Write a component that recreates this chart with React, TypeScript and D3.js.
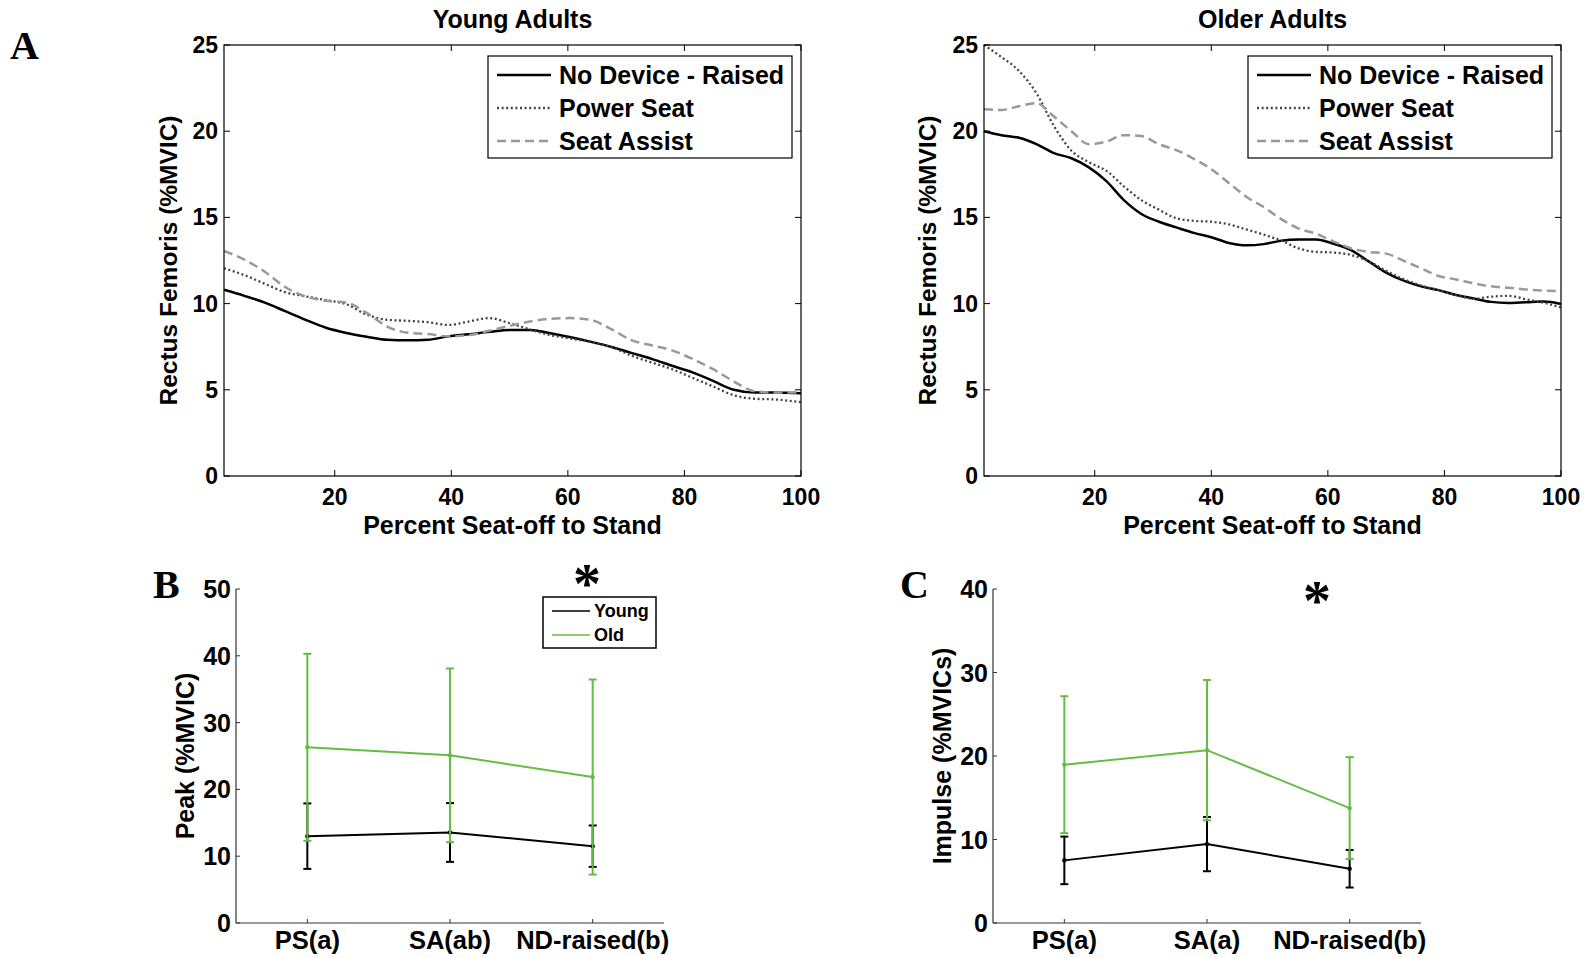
import React from 'react';
import * as d3 from 'd3';

// ---------- Panel A data ----------
const youngX = [1, 4.5, 8, 11.5, 15, 18.5, 22, 25.5, 29, 32.5, 36, 39.5, 43, 46.5, 50, 53.5, 57, 60.5, 64, 67.5, 71, 74.5, 78, 81.5, 85, 88.5, 92, 95.5, 100];
const youngNoDevice = [10.8, 10.45, 10.06, 9.56, 9.06, 8.6, 8.3, 8.08, 7.9, 7.87, 7.9, 8.1, 8.22, 8.36, 8.47, 8.47, 8.28, 8.05, 7.78, 7.48, 7.13, 6.78, 6.38, 6.0, 5.5, 5.0, 4.84, 4.84, 4.8];
const youngPowerSeat = [12.05, 11.65, 11.15, 10.66, 10.42, 10.2, 9.96, 9.36, 9.06, 9.0, 8.92, 8.76, 8.96, 9.16, 8.86, 8.5, 8.17, 7.97, 7.77, 7.47, 6.97, 6.57, 6.18, 5.68, 5.18, 4.68, 4.48, 4.44, 4.28];
const youngSeatAssist = [13.05, 12.55, 11.85, 10.96, 10.42, 10.16, 10.06, 9.46, 8.67, 8.31, 8.23, 8.1, 8.17, 8.43, 8.71, 8.96, 9.12, 9.16, 9.05, 8.5, 7.87, 7.57, 7.27, 6.77, 6.18, 5.48, 4.92, 4.84, 4.84];

const olderX = [1, 4, 7, 10, 13, 16, 19, 22, 25, 28, 31, 34, 37, 40, 43, 46, 49, 52, 55, 58, 61, 64, 67, 70, 73, 76, 79, 82, 85, 88, 91, 94, 97, 100];
const olderNoDevice = [20.0, 19.77, 19.62, 19.25, 18.73, 18.43, 17.9, 17.1, 16.0, 15.2, 14.75, 14.42, 14.1, 13.85, 13.52, 13.38, 13.45, 13.65, 13.72, 13.72, 13.47, 13.1, 12.45, 11.8, 11.33, 11.0, 10.78, 10.5, 10.3, 10.1, 10.04, 10.08, 10.12, 9.98];
const olderPowerSeat = [25.0, 24.3, 23.5, 22.2, 20.3, 18.87, 18.2, 17.7, 16.8, 16.0, 15.45, 14.95, 14.8, 14.75, 14.6, 14.3, 14.0, 13.65, 13.2, 13.0, 12.96, 12.82, 12.45, 11.9, 11.42, 11.05, 10.78, 10.5, 10.28, 10.4, 10.45, 10.25, 10.05, 9.78];
const olderSeatAssist = [21.27, 21.23, 21.45, 21.62, 20.85, 20.0, 19.25, 19.4, 19.77, 19.72, 19.25, 18.9, 18.4, 17.8, 17.0, 16.2, 15.6, 14.9, 14.35, 14.05, 13.6, 13.2, 13.0, 12.9, 12.48, 12.05, 11.6, 11.4, 11.18, 11.0, 10.92, 10.82, 10.76, 10.72];

const lineXTicks = [20, 40, 60, 80, 100];
const lineYTicks = [0, 5, 10, 15, 20, 25];
const legendLabels = ['No Device - Raised', 'Power Seat', 'Seat Assist'];

// ---------- Panels B & C data ----------
const conditionsB = ['PS(a)', 'SA(ab)', 'ND-raised(b)'];
const conditionsC = ['PS(a)', 'SA(a)', 'ND-raised(b)'];
const peakYoung = [13.0, 13.55, 11.5];
const peakYoungErr = [4.9, 4.4, 3.1];
const peakOld = [26.3, 25.1, 21.85];
const peakOldErr = [14.0, 13.0, 14.6];
const impulseYoung = [7.5, 9.45, 6.5];
const impulseYoungErr = [2.85, 3.25, 2.25];
const impulseOld = [18.96, 20.7, 13.76];
const impulseOldErr = [8.2, 8.4, 6.1];
const peakTicks = [0, 10, 20, 30, 40, 50];
const impulseTicks = [0, 10, 20, 30, 40];

const SANS = '"Liberation Sans", Arial, sans-serif';
const SERIF = '"Liberation Serif", "Times New Roman", serif';
const GREEN = '#66bb44';

const seriesStyles = [
  { stroke: '#000000', width: 2.5, dash: undefined as string | undefined },
  { stroke: '#444444', width: 2.3, dash: '2,2.6' },
  { stroke: '#999999', width: 2.5, dash: '9,5' },
];

function LinePanel(props: { left: number; title: string; xs: number[]; series: number[][]; yLabelX: number }) {
  const { left, title, xs, series, yLabelX } = props;
  const x = d3.scaleLinear().domain([1, 100]).range([left, left + 577]);
  const y = d3.scaleLinear().domain([0, 25]).range([476, 45]);
  const line = d3
    .line<number>()
    .x((_, i) => x(xs[i]))
    .y((d) => y(d))
    .curve(d3.curveMonotoneX);
  const [x0, x1] = x.range();
  const [yb, yt] = y.range();
  const cx = (x0 + x1) / 2;
  const lgX = x1 - 313;
  return (
    <g>
      <text x={cx} y={28} textAnchor="middle" fontFamily={SANS} fontWeight="bold" fontSize={25}>{title}</text>
      <rect x={x0} y={yt} width={x1 - x0} height={yb - yt} fill="white" stroke="none" />
      {series.map((s, k) => (
        <path key={k} d={line(s) || ''} fill="none" stroke={seriesStyles[k].stroke} strokeWidth={seriesStyles[k].width} strokeDasharray={seriesStyles[k].dash} />
      ))}
      <rect x={x0} y={yt} width={x1 - x0} height={yb - yt} fill="none" stroke="#000" strokeWidth={1.2} />
      {lineXTicks.map((t) => (
        <g key={t}>
          <line x1={x(t)} x2={x(t)} y1={yb} y2={yb - 6} stroke="#000" />
          <line x1={x(t)} x2={x(t)} y1={yt} y2={yt + 6} stroke="#000" />
          <text x={x(t)} y={505} textAnchor="middle" fontFamily={SANS} fontWeight="bold" fontSize={23}>{t}</text>
        </g>
      ))}
      {lineYTicks.map((t) => (
        <g key={t}>
          <line x1={x0} x2={x0 + 6} y1={y(t)} y2={y(t)} stroke="#000" />
          <line x1={x1} x2={x1 - 6} y1={y(t)} y2={y(t)} stroke="#000" />
          <text x={x0 - 6} y={y(t) + 8} textAnchor="end" fontFamily={SANS} fontWeight="bold" fontSize={23}>{t}</text>
        </g>
      ))}
      <text x={cx} y={534} textAnchor="middle" fontFamily={SANS} fontWeight="bold" fontSize={25}>Percent Seat-off to Stand</text>
      <text transform={`translate(${yLabelX},${(yt + yb) / 2}) rotate(-90)`} textAnchor="middle" dominantBaseline="central" fontFamily={SANS} fontWeight="bold" fontSize={24.5}>Rectus Femoris (%MVIC)</text>
      <rect x={lgX} y={56} width={304} height={102} fill="white" stroke="#000" strokeWidth={1.2} />
      {legendLabels.map((lab, k) => (
        <g key={lab}>
          <line x1={lgX + 9} x2={lgX + 63} y1={75 + k * 33} y2={75 + k * 33} stroke={seriesStyles[k].stroke} strokeWidth={seriesStyles[k].width} strokeDasharray={seriesStyles[k].dash} />
          <text x={lgX + 71} y={84 + k * 33} fontFamily={SANS} fontWeight="bold" fontSize={25}>{lab}</text>
        </g>
      ))}
    </g>
  );
}

function ErrPanel(props: {
  left: number; right: number; maxY: number; ticks: number[]; cats: string[];
  young: number[]; youngErr: number[]; old: number[]; oldErr: number[];
  yLabel: string; yLabelX: number; legend: boolean;
}) {
  const { left, right, maxY, ticks, cats, young, youngErr, old, oldErr, yLabel, yLabelX, legend } = props;
  const x = d3.scaleLinear().domain([0.5, 3.5]).range([left, right]);
  const y = d3.scaleLinear().domain([0, maxY]).range([923, 589]);
  const idx = [1, 2, 3];
  const line = d3.line<number>().x((_, i) => x(idx[i])).y((d) => y(d));
  const drawSeries = (vals: number[], errs: number[], color: string) => (
    <g>
      <path d={line(vals) || ''} fill="none" stroke={color} strokeWidth={2} />
      {vals.map((v, i) => {
        const cxp = x(idx[i]);
        const hi = y(v + errs[i]);
        const lo = y(v - errs[i]);
        return (
          <g key={i}>
            <line x1={cxp} x2={cxp} y1={hi} y2={lo} stroke={color} strokeWidth={2} />
            <line x1={cxp - 4} x2={cxp + 4} y1={hi} y2={hi} stroke={color} strokeWidth={2} />
            <line x1={cxp - 4} x2={cxp + 4} y1={lo} y2={lo} stroke={color} strokeWidth={2} />
            <circle cx={cxp} cy={y(v)} r={2.2} fill={color} />
          </g>
        );
      })}
    </g>
  );
  return (
    <g>
      <line x1={left} x2={left} y1={589} y2={923} stroke="#333" strokeWidth={1.2} />
      <line x1={left} x2={right} y1={923} y2={923} stroke="#333" strokeWidth={1.2} />
      {ticks.map((t) => (
        <g key={t}>
          <line x1={left} x2={left + 4} y1={y(t)} y2={y(t)} stroke="#333" />
          <text x={left - 5} y={y(t) + 9} textAnchor="end" fontFamily={SANS} fontWeight="bold" fontSize={25}>{t}</text>
        </g>
      ))}
      {cats.map((c, i) => (
        <g key={c}>
          <line x1={x(idx[i])} x2={x(idx[i])} y1={923} y2={919} stroke="#333" />
          <text x={x(idx[i])} y={949} textAnchor="middle" fontFamily={SANS} fontWeight="bold" fontSize={25.5}>{c}</text>
        </g>
      ))}
      <text transform={`translate(${yLabelX},756) rotate(-90)`} textAnchor="middle" dominantBaseline="central" fontFamily={SANS} fontWeight="bold" fontSize={25}>{yLabel}</text>
      {drawSeries(young, youngErr, '#000')}
      {drawSeries(old, oldErr, GREEN)}
      {legend && (
        <g>
          <rect x={543} y={597} width={113} height={51} fill="white" stroke="#000" strokeWidth={1.5} />
          <line x1={552} x2={590} y1={611} y2={611} stroke="#000" strokeWidth={1.5} />
          <text x={594} y={617} fontFamily={SANS} fontWeight="bold" fontSize={18}>Young</text>
          <line x1={552} x2={590} y1={635} y2={635} stroke={GREEN} strokeWidth={1.5} />
          <text x={594} y={641} fontFamily={SANS} fontWeight="bold" fontSize={18}>Old</text>
        </g>
      )}
    </g>
  );
}

export default function App() {
  return (
    <svg width={1587} height={958} style={{ position: 'absolute', left: 0, top: 0, background: 'white' }}>
      <rect width={1587} height={958} fill="white" />
      <text x={10} y={59} fontFamily={SERIF} fontWeight="bold" fontSize={40}>A</text>
      <LinePanel left={224} title="Young Adults" xs={youngX} series={[youngNoDevice, youngPowerSeat, youngSeatAssist]} yLabelX={168} />
      <LinePanel left={984} title="Older Adults" xs={olderX} series={[olderNoDevice, olderPowerSeat, olderSeatAssist]} yLabelX={927} />
      <text x={153} y={598} fontFamily={SERIF} fontWeight="bold" fontSize={40}>B</text>
      <text x={900} y={598} fontFamily={SERIF} fontWeight="bold" fontSize={40}>C</text>
      <ErrPanel left={236} right={664} maxY={50} ticks={peakTicks} cats={conditionsB} young={peakYoung} youngErr={peakYoungErr} old={peakOld} oldErr={peakOldErr} yLabel="Peak (%MVIC)" yLabelX={185} legend={true} />
      <ErrPanel left={993} right={1421} maxY={40} ticks={impulseTicks} cats={conditionsC} young={impulseYoung} youngErr={impulseYoungErr} old={impulseOld} oldErr={impulseOldErr} yLabel="Impulse (%MVICs)" yLabelX={942} legend={false} />
      <text x={587} y={603} textAnchor="middle" fontFamily={SERIF} fontWeight="bold" fontSize={56}>*</text>
      <text x={1317} y={620} textAnchor="middle" fontFamily={SERIF} fontWeight="bold" fontSize={56}>*</text>
    </svg>
  );
}
